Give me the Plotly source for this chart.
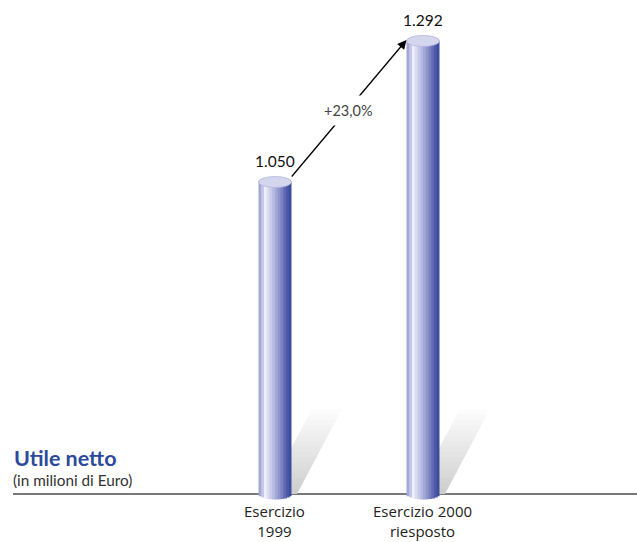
import numpy as np
import plotly.graph_objects as go

# ---- data ----
categories = ["Esercizio<br>1999", "Esercizio 2000<br>riesposto"]
values = [1050, 1292]
value_labels = ["1.050", "1.292"]
growth_label = "+23,0%"
title_text = "Utile netto"
subtitle_text = "(in milioni di Euro)"

# ---- layout constants ----
FIG_W, FIG_H = 637, 542
X_RANGE = [-1.858, 2.446]
Y_RANGE = [432.2, 1362.3]
BASE = 514.6                      # value at the baseline of the chart
PXX = (X_RANGE[1] - X_RANGE[0]) / FIG_W
PXY = (Y_RANGE[1] - Y_RANGE[0]) / FIG_H
W = 33 * PXX                      # cylinder width
RY = 5.5 * PXY                    # ellipse half height
FONT = "'Open Sans', Lato, sans-serif"
FONT2 = "Lato, 'Open Sans', sans-serif"

stripe_colors = ["#a3a7d6", "#c5c8e8", "#eef0f9", "#dadcf1", "#c8cae8", "#b7bae0",
                 "#a3a7d6", "#8f94cc", "#7b81c1", "#636ab4", "#4d59a7", "#3b4d9e"]

xs = list(range(len(values)))
fig = go.Figure()

n = len(stripe_colors)
sw = W / n
for k, c in enumerate(stripe_colors):
    off = -W / 2 + k * sw
    t = (off + sw / 2) / (W / 2)
    b = BASE - RY * np.sqrt(max(0.0, 1 - t * t))
    fig.add_bar(x=xs, y=[v - b for v in values], base=[b] * len(values),
                width=sw * 1.35 if k < n - 1 else sw, offset=off,
                marker=dict(color=c, line=dict(width=0)),
                hoverinfo="skip", showlegend=False)

shapes = []
# shadows (gradient band going up-right from each cylinder base)
NSEG = 16
a0, a1, DX, DY = -8, 22, 45, 85
for i in xs:
    for j in range(NSEG):
        t0, t1 = j / NSEG, min(1.0, (j + 1.15) / NSEG)
        g = int(205 + (255 - 205) * (j / NSEG) ** 0.9)
        def P(a, t):
            return (i + (a + t * DX) * PXX, BASE + t * DY * PXY)
        pts = [P(a0, t0), P(a1, t0), P(a1, t1), P(a0, t1)]
        path = "M " + " L ".join(f"{x:.5f},{y:.4f}" for x, y in pts) + " Z"
        shapes.append(dict(type="path", path=path, xref="x", yref="y", layer="below",
                           fillcolor=f"rgb({g},{g},{g})", line=dict(width=0)))

# baseline
shapes.append(dict(type="line", xref="paper", yref="y", x0=13 / FIG_W, x1=1, y0=BASE, y1=BASE,
                   layer="below", line=dict(color="#4d4d4d", width=1.5)))

# cylinder tops
for i, v in zip(xs, values):
    shapes.append(dict(type="circle", xref="x", yref="y", layer="above",
                       x0=i - W / 2, x1=i + W / 2, y0=v - RY, y1=v + RY,
                       fillcolor="#d4d6ee", line=dict(color="#b3b6dc", width=0.8)))

annotations = []
for i, v, lab in zip(xs, values, value_labels):
    annotations.append(dict(x=i, y=v, text=lab, showarrow=False, yshift=21,
                            font=dict(family=FONT2, size=15.5, color="#111")))
for i, cat in zip(xs, categories):
    annotations.append(dict(x=i, y=BASE, text=cat, showarrow=False, yanchor="middle", yshift=-27.5,
                            borderpad=0, font=dict(family=FONT, size=15, color="#222")))

# growth arrow
tip_x, tip_y = 1 - W / 2, values[1] + 1 * PXY
tail_x, tail_y = 0 + W / 2 - 1 * PXX, values[0] + 4 * PXY
annotations.append(dict(x=tip_x, y=tip_y, ax=tail_x, ay=tail_y, axref="x", ayref="y",
                        xref="x", yref="y", text="", showarrow=True, arrowhead=2,
                        arrowsize=1.4, arrowwidth=1.3, arrowcolor="#000", standoff=0))
annotations.append(dict(x=(tip_x + tail_x) / 2, y=(tip_y + tail_y) / 2 - 2 * PXY, text=growth_label,
                        showarrow=False, bgcolor="white", borderpad=6,
                        font=dict(family=FONT2, size=14.5, color="#444")))

# title
annotations.append(dict(xref="paper", yref="paper", x=12 / FIG_W, y=1 - 458 / FIG_H,
                        xanchor="left", yanchor="middle", showarrow=False,
                        text=f"<b>{title_text}</b>",
                        font=dict(family=FONT2, size=21.5, color="#2c4a9c")))
annotations.append(dict(xref="paper", yref="paper", x=11 / FIG_W, y=1 - 480 / FIG_H,
                        xanchor="left", yanchor="middle", showarrow=False,
                        text=subtitle_text,
                        font=dict(family=FONT2, size=15.3, color="#333")))

fig.update_layout(
    width=FIG_W, height=FIG_H,
    margin=dict(l=0, r=0, t=0, b=0),
    paper_bgcolor="white", plot_bgcolor="white",
    barmode="overlay", showlegend=False,
    xaxis=dict(range=X_RANGE, visible=False, fixedrange=True),
    yaxis=dict(range=Y_RANGE, visible=False, fixedrange=True),
    shapes=shapes, annotations=annotations,
)

fig.write_html("out.html", post_script="document.body.style.margin='0';",
               config={"displayModeBar": False})
